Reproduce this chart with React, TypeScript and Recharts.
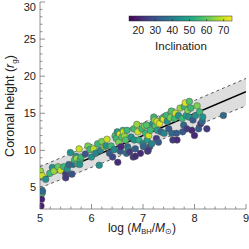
import React from 'react';
import { ComposedChart, XAxis, YAxis, Scatter, Line, Area, Customized } from 'recharts';

// ---- data ----
const logMass = [
  5.01, 5.04, 5.02, 5.04, 5.03, 5.02, 5.05, 5.11, 5.19, 5.24, 5.27, 5.35, 5.40, 5.46, 5.50, 5.50, 5.53, 5.56, 5.59, 5.62,
  5.64, 5.67, 5.70, 5.71, 5.73, 5.76, 5.78, 5.77, 5.80, 5.88, 5.93, 5.97, 6.00, 6.04, 6.08, 6.12, 6.15, 6.17, 6.20, 6.25,
  6.28, 6.30, 6.35, 6.38, 6.41, 6.44, 6.46, 6.48, 6.50, 6.51, 6.53, 6.55, 6.56, 6.57, 6.59, 6.61, 6.62, 6.64, 6.66, 6.68,
  6.69, 6.70, 6.72, 6.74, 6.77, 6.81, 6.82, 6.83, 6.85, 6.88, 6.90, 6.92, 6.95, 6.98, 7.00, 7.01, 7.03, 7.05, 7.07, 7.08,
  7.09, 7.11, 7.13, 7.14, 7.17, 7.19, 7.21, 7.22, 7.24, 7.26, 7.27, 7.28, 7.30, 7.32, 7.35, 7.37, 7.40, 7.41, 7.45, 7.47,
  7.50, 7.53, 7.55, 7.56, 7.58, 7.61, 7.63, 7.65, 7.66, 7.69, 7.72, 7.76, 7.77, 7.79, 7.80, 7.82, 7.84, 7.85, 7.87, 7.89,
  7.90, 7.93, 7.95, 7.97, 8.00, 8.02, 8.05, 8.08, 8.10, 8.12, 8.15, 8.16, 8.24, 8.56, 6.85, 7.10,
];
const coronalHeight = [
  7.2, 6.6, 4.7, 4.2, 3.4, 2.5, 4.5, 6.1, 6.9, 7.7, 7.2, 7.8, 7.3, 7.8, 6.8, 6.3, 7.5, 8.1, 9.7, 6.8,
  8.1, 8.7, 9.2, 8.9, 8.2, 10.2, 8.7, 8.1, 9.1, 9.5, 10.6, 10.1, 9.1, 10.2, 9.6, 10.9, 8.0, 10.0, 11.2, 10.5,
  10.6, 11.5, 9.6, 10.6, 9.1, 10.1, 12.0, 11.6, 12.5, 8.4, 11.1, 12.2, 9.9, 10.5, 11.8, 12.7, 12.5, 11.9, 11.4, 9.6,
  12.7, 10.5, 10.1, 9.8, 11.8, 9.1, 12.9, 11.4, 10.2, 13.5, 12.5, 11.4, 9.6, 12.9, 10.9, 10.5, 13.3, 12.3, 13.4, 11.4,
  9.9, 12.0, 10.5, 12.7, 10.9, 13.6, 14.5, 14.1, 13.3, 11.6, 13.9, 12.7, 11.1, 13.6, 12.5, 14.3, 14.2, 12.3, 14.7, 13.9,
  12.9, 14.4, 15.3, 12.3, 11.4, 14.3, 15.0, 12.3, 11.4, 14.7, 15.7, 14.3, 12.5, 13.4, 15.9, 16.4, 14.7, 12.9, 15.4, 14.5,
  16.6, 15.7, 12.7, 14.1, 12.0, 14.7, 16.0, 12.9, 15.2, 13.6, 13.9, 14.5, 12.9, 14.7, 9.2, 10.0,
];
const inclination = [
  65, 70, 40, 55, 20, 20, 35, 45, 55, 45, 65, 60, 70, 55, 25, 25, 45, 35, 45, 30,
  35, 55, 45, 65, 55, 70, 55, 45, 55, 30, 62, 55, 45, 68, 42, 55, 45, 42, 62, 68,
  45, 70, 32, 55, 28, 42, 58, 55, 48, 22, 63, 72, 32, 22, 58, 55, 70, 65, 58, 35,
  55, 35, 42, 25, 45, 25, 55, 45, 32, 65, 70, 52, 22, 55, 42, 35, 63, 55, 58, 48,
  22, 70, 32, 55, 42, 45, 55, 63, 58, 25, 70, 48, 32, 72, 35, 55, 72, 42, 55, 45,
  32, 63, 58, 35, 25, 55, 70, 32, 22, 45, 65, 55, 32, 35, 55, 72, 48, 25, 63, 45,
  58, 55, 22, 32, 22, 45, 63, 32, 55, 25, 35, 45, 25, 35, 22, 25,
];

const fitX = [5, 9];
const fitY = [6.1, 17.9];
const bandLower = [4.95, 16.0];
const bandUpper = [7.8, 19.7];

const xMajorTicks = [5, 6, 7, 8, 9];
const yMajorTicks = [5, 10, 15, 20, 25, 30];
const colorbarTicks = [20, 30, 40, 50, 60, 70];
const colorRange = [14.6, 74.9];

// ---- derived tables ----
const points = logMass.map((x, i) => ({ x, y: coronalHeight[i], inc: inclination[i] }));
const lineData = fitX.map((x, i) => ({ x, fit: fitY[i], lower: bandLower[i], upper: bandUpper[i], band: [bandLower[i], bandUpper[i]] }));

const xTicksAll: number[] = [];
for (let i = 0; i <= 20; i++) xTicksAll.push(Math.round((5 + i * 0.2) * 10) / 10);
const yTicksAll: number[] = [];
for (let v = 3; v <= 30; v++) yTicksAll.push(v);

const VIRIDIS = ['#440154', '#482475', '#414487', '#355f8d', '#2a788e', '#21918c', '#22a884', '#44bf70', '#7ad151', '#bddf26', '#fde725'];
function hexToRgb(h: string) {
  return [parseInt(h.slice(1, 3), 16), parseInt(h.slice(3, 5), 16), parseInt(h.slice(5, 7), 16)];
}
function viridis(v: number) {
  let t = (v - colorRange[0]) / (colorRange[1] - colorRange[0]);
  t = Math.max(0, Math.min(1, t));
  const p = t * 10;
  const i = Math.min(9, Math.floor(p));
  const f = p - i;
  const a = hexToRgb(VIRIDIS[i]);
  const b = hexToRgb(VIRIDIS[i + 1]);
  const c = a.map((av, k) => Math.round(av + (b[k] - av) * f));
  return `rgb(${c[0]},${c[1]},${c[2]})`;
}

const FONT = 'Liberation Sans, Arial, Helvetica, sans-serif';
const AXIS = '#777';
const TXT = '#222';

const isMajor = (v: number, list: number[]) => list.some((m) => Math.abs(m - v) < 1e-6);

const BottomTick = (props: any) => {
  const { x, y, payload } = props;
  const major = isMajor(payload.value, xMajorTicks);
  return (
    <g>
      <line x1={x} x2={x} y1={y} y2={y - (major ? 5 : 2.5)} stroke={AXIS} strokeWidth={0.8} />
      {major && (
        <text x={x} y={y + 13} textAnchor="middle" fontSize={11} fontFamily={FONT} fill={TXT}>
          {payload.value}
        </text>
      )}
    </g>
  );
};
const TopTick = (props: any) => {
  const { x, y, payload } = props;
  const major = isMajor(payload.value, xMajorTicks);
  return <line x1={x} x2={x} y1={y} y2={y + (major ? 5 : 2.5)} stroke={AXIS} strokeWidth={0.8} />;
};
const LeftTick = (props: any) => {
  const { x, y, payload } = props;
  const major = isMajor(payload.value, yMajorTicks);
  return (
    <g>
      <line x1={x} x2={x + (major ? 5 : 2.5)} y1={y} y2={y} stroke={AXIS} strokeWidth={0.8} />
      {major && (
        <text x={x - 4} y={Math.max(y + 4, 11)} textAnchor="end" fontSize={11} fontFamily={FONT} fill={TXT}>
          {payload.value}
        </text>
      )}
    </g>
  );
};
const RightTick = (props: any) => {
  const { x, y, payload } = props;
  const major = isMajor(payload.value, yMajorTicks);
  return <line x1={x} x2={x - (major ? 5 : 2.5)} y1={y} y2={y} stroke={AXIS} strokeWidth={0.8} />;
};

const Dot = (props: any) => {
  const { cx, cy, payload } = props;
  if (cx == null || cy == null) return null;
  return <circle cx={cx} cy={cy} r={3.3} fill={viridis(payload.inc)} stroke="#555" strokeWidth={0.5} />;
};

const CB_X = 129;
const CB_W = 103;
const CB_Y = 16;
const CB_H = 5;
const cbPos = (v: number) => CB_X + ((v - colorRange[0]) / (colorRange[1] - colorRange[0])) * CB_W;

const Decorations = () => (
  <g>
    <defs>
      <linearGradient id="viridisGrad" x1="0" x2="1" y1="0" y2="0">
        {VIRIDIS.map((c, i) => (
          <stop key={i} offset={`${i * 10}%`} stopColor={c} />
        ))}
      </linearGradient>
    </defs>
    <rect x={CB_X} y={CB_Y} width={CB_W} height={CB_H} fill="url(#viridisGrad)" stroke="#333" strokeWidth={0.5} />
    {colorbarTicks.map((v) => (
      <g key={v}>
        <line x1={cbPos(v)} x2={cbPos(v)} y1={CB_Y + CB_H} y2={CB_Y + CB_H - 2} stroke="#222" strokeWidth={0.6} />
        <text x={cbPos(v)} y={33.5} textAnchor="middle" fontSize={10.5} fontFamily={FONT} fill={TXT}>
          {v}
        </text>
      </g>
    ))}
    <text x={181} y={50} textAnchor="middle" fontSize={11.5} fontFamily={FONT} fill={TXT}>
      Inclination
    </text>
    <text x={142} y={232} textAnchor="middle" fontSize={12} fontFamily={FONT} fill={TXT}>
      {'log ('}
      <tspan fontStyle="italic">M</tspan>
      <tspan fontSize={7.5} dy={2}>BH</tspan>
      <tspan dy={-2}>/</tspan>
      <tspan fontStyle="italic">M</tspan>
      <tspan fontSize={7.5} dy={2}>⊙</tspan>
      <tspan dy={-2}>)</tspan>
    </text>
    <text x={14} y={106} transform="rotate(-90, 14, 106)" textAnchor="middle" fontSize={12.5} fontFamily={FONT} fill={TXT}>
      {'Coronal height ('}
      <tspan fontStyle="italic">r</tspan>
      <tspan fontSize={8} dy={2.5}>g</tspan>
      <tspan dy={-2.5}>)</tspan>
    </text>
  </g>
);

export default function App() {
  return (
    <div style={{ position: 'fixed', left: 0, top: 0, width: 249, height: 249, background: '#fff' }}>
      <ComposedChart width={249} height={249} data={lineData} margin={{ top: 2, right: 3, left: 0, bottom: 0 }}>
        <XAxis
          xAxisId={0}
          dataKey="x"
          type="number"
          domain={[5, 9]}
          ticks={xTicksAll}
          interval={0}
          allowDataOverflow
          height={40}
          tickSize={0}
          tickMargin={0}
          tickLine={false}
          axisLine={{ stroke: AXIS, strokeWidth: 0.8 }}
          tick={<BottomTick />}
        />
        <XAxis
          xAxisId="top"
          orientation="top"
          type="number"
          domain={[5, 9]}
          ticks={xTicksAll}
          interval={0}
          allowDataOverflow
          height={0}
          tickSize={0}
          tickMargin={0}
          tickLine={false}
          axisLine={{ stroke: AXIS, strokeWidth: 0.8 }}
          tick={<TopTick />}
        />
        <YAxis
          yAxisId={0}
          type="number"
          domain={[2.1, 30]}
          ticks={yTicksAll}
          interval={0}
          allowDataOverflow
          width={40}
          tickSize={0}
          tickMargin={0}
          tickLine={false}
          axisLine={{ stroke: AXIS, strokeWidth: 0.8 }}
          tick={<LeftTick />}
        />
        <YAxis
          yAxisId="right"
          orientation="right"
          type="number"
          domain={[2.1, 30]}
          ticks={yTicksAll}
          interval={0}
          allowDataOverflow
          width={0}
          tickSize={0}
          tickMargin={0}
          tickLine={false}
          axisLine={{ stroke: AXIS, strokeWidth: 0.8 }}
          tick={<RightTick />}
        />
        <Area dataKey="band" type="linear" fill="#dddddd" fillOpacity={1} stroke="none" isAnimationActive={false} />
        <Line dataKey="upper" type="linear" stroke="#333" strokeWidth={0.8} strokeDasharray="3 3" dot={false} isAnimationActive={false} />
        <Line dataKey="lower" type="linear" stroke="#333" strokeWidth={0.8} strokeDasharray="3 3" dot={false} isAnimationActive={false} />
        <Scatter data={points} dataKey="y" shape={<Dot />} isAnimationActive={false} />
        <Line dataKey="fit" type="linear" stroke="#000" strokeWidth={1.5} dot={false} isAnimationActive={false} />
        <Customized component={<Decorations />} />
      </ComposedChart>
    </div>
  );
}
